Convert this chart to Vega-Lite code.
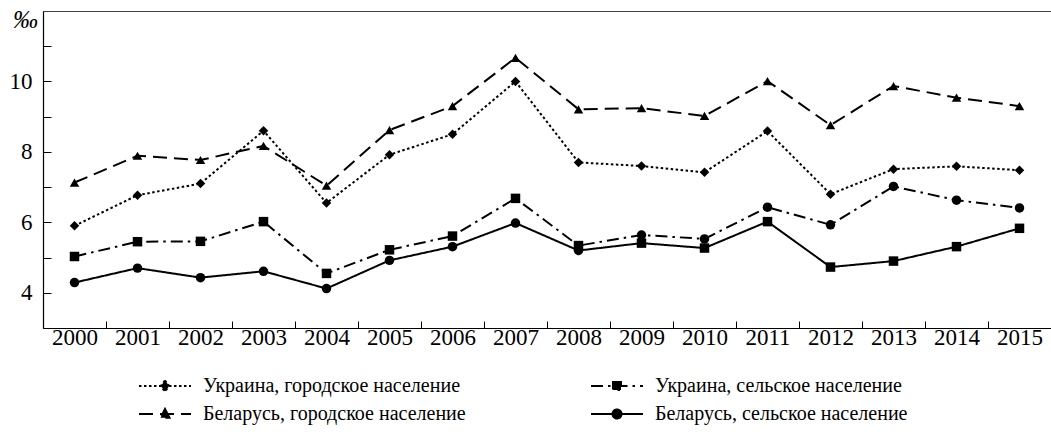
{
  "$schema": "https://vega.github.io/schema/vega-lite/v6.json",
  "width": 1008,
  "height": 317,
  "autosize": {"type": "none"},
  "padding": {"left": 43, "top": 11, "right": 0, "bottom": 104},
  "background": "white",
  "config": {
    "view": {"stroke": "#444", "strokeWidth": 1},
    "font": "Liberation Serif",
    "axis": {"labelFont": "Liberation Serif", "titleFont": "Liberation Serif", "labelColor": "black", "domainColor": "black", "tickColor": "black", "domainWidth": 1.2, "tickWidth": 1, "grid": false},
    "legend": {"labelFont": "Liberation Serif"}
  },
  "data": {
    "values": [
      {"year": 2000, "series": "Украина, городское население", "value": 5.9},
      {"year": 2001, "series": "Украина, городское население", "value": 6.77},
      {"year": 2002, "series": "Украина, городское население", "value": 7.1},
      {"year": 2003, "series": "Украина, городское население", "value": 8.6},
      {"year": 2004, "series": "Украина, городское население", "value": 6.55},
      {"year": 2005, "series": "Украина, городское население", "value": 7.92},
      {"year": 2006, "series": "Украина, городское население", "value": 8.5},
      {"year": 2007, "series": "Украина, городское население", "value": 10.0},
      {"year": 2008, "series": "Украина, городское население", "value": 7.7},
      {"year": 2009, "series": "Украина, городское население", "value": 7.6},
      {"year": 2010, "series": "Украина, городское население", "value": 7.42},
      {"year": 2011, "series": "Украина, городское население", "value": 8.59},
      {"year": 2012, "series": "Украина, городское население", "value": 6.8},
      {"year": 2013, "series": "Украина, городское население", "value": 7.51},
      {"year": 2014, "series": "Украина, городское население", "value": 7.59},
      {"year": 2015, "series": "Украина, городское население", "value": 7.48},
      {"year": 2000, "series": "Беларусь, городское население", "value": 7.13},
      {"year": 2001, "series": "Беларусь, городское население", "value": 7.89},
      {"year": 2002, "series": "Беларусь, городское население", "value": 7.77},
      {"year": 2003, "series": "Беларусь, городское население", "value": 8.17},
      {"year": 2004, "series": "Беларусь, городское население", "value": 7.04},
      {"year": 2005, "series": "Беларусь, городское население", "value": 8.62},
      {"year": 2006, "series": "Беларусь, городское население", "value": 9.3},
      {"year": 2007, "series": "Беларусь, городское население", "value": 10.67},
      {"year": 2008, "series": "Беларусь, городское население", "value": 9.21},
      {"year": 2009, "series": "Беларусь, городское население", "value": 9.24},
      {"year": 2010, "series": "Беларусь, городское население", "value": 9.02},
      {"year": 2011, "series": "Беларусь, городское население", "value": 10.01},
      {"year": 2012, "series": "Беларусь, городское население", "value": 8.76},
      {"year": 2013, "series": "Беларусь, городское население", "value": 9.87},
      {"year": 2014, "series": "Беларусь, городское население", "value": 9.54},
      {"year": 2015, "series": "Беларусь, городское население", "value": 9.3},
      {"year": 2000, "series": "Украина, сельское население", "value": 5.03},
      {"year": 2001, "series": "Украина, сельское население", "value": 5.45},
      {"year": 2002, "series": "Украина, сельское население", "value": 5.46},
      {"year": 2003, "series": "Украина, сельское население", "value": 6.02},
      {"year": 2004, "series": "Украина, сельское население", "value": 4.55},
      {"year": 2005, "series": "Украина, сельское население", "value": 5.22},
      {"year": 2006, "series": "Украина, сельское население", "value": 5.61},
      {"year": 2007, "series": "Украина, сельское население", "value": 6.68},
      {"year": 2008, "series": "Украина, сельское население", "value": 5.34},
      {"year": 2009, "series": "Украина, сельское население", "value": 5.64},
      {"year": 2010, "series": "Украина, сельское население", "value": 5.53},
      {"year": 2011, "series": "Украина, сельское население", "value": 6.43},
      {"year": 2012, "series": "Украина, сельское население", "value": 5.93},
      {"year": 2013, "series": "Украина, сельское население", "value": 7.02},
      {"year": 2014, "series": "Украина, сельское население", "value": 6.63},
      {"year": 2015, "series": "Украина, сельское население", "value": 6.41},
      {"year": 2000, "series": "Беларусь, сельское население", "value": 4.29},
      {"year": 2001, "series": "Беларусь, сельское население", "value": 4.7},
      {"year": 2002, "series": "Беларусь, сельское население", "value": 4.43},
      {"year": 2003, "series": "Беларусь, сельское население", "value": 4.61},
      {"year": 2004, "series": "Беларусь, сельское население", "value": 4.12},
      {"year": 2005, "series": "Беларусь, сельское население", "value": 4.92},
      {"year": 2006, "series": "Беларусь, сельское население", "value": 5.31},
      {"year": 2007, "series": "Беларусь, сельское население", "value": 5.98},
      {"year": 2008, "series": "Беларусь, сельское население", "value": 5.2},
      {"year": 2009, "series": "Беларусь, сельское население", "value": 5.41},
      {"year": 2010, "series": "Беларусь, сельское население", "value": 5.27},
      {"year": 2011, "series": "Беларусь, сельское население", "value": 6.02},
      {"year": 2012, "series": "Беларусь, сельское население", "value": 4.73},
      {"year": 2013, "series": "Беларусь, сельское население", "value": 4.9},
      {"year": 2014, "series": "Беларусь, сельское население", "value": 5.31},
      {"year": 2015, "series": "Беларусь, сельское население", "value": 5.83}
    ]
  },
  "encoding": {
    "x": {
      "field": "year", "type": "ordinal",
      "scale": {"paddingInner": 0, "paddingOuter": 0},
      "axis": {"title": null, "labelAngle": 0, "tickBand": "extent", "tickSize": -7, "labelFontSize": 23, "labelPadding": 5, "labelBaseline": "top"}
    },
    "y": {
      "field": "value", "type": "quantitative",
      "scale": {"domain": [3, 12], "nice": false, "zero": false},
      "axis": {
        "values": [4, 5, 6, 7, 8, 9, 10, 11],
        "labelExpr": "datum.value % 2 == 0 ? datum.value : ''",
        "tickSize": -8, "labelFontSize": 23, "labelPadding": 19,
        "title": "‰", "titleAngle": 0, "titleFontSize": 25, "titleFontStyle": "italic", "titleFontWeight": "normal",
        "titleX": -18, "titleY": 8, "titleAlign": "center", "titleBaseline": "middle"
      }
    }
  },
  "layer": [
    {
      "mark": {"type": "line", "color": "black", "strokeWidth": 2},
      "encoding": {
        "strokeDash": {
          "field": "series", "type": "nominal",
          "scale": {
            "domain": ["Украина, городское население", "Украина, сельское население", "Беларусь, городское население", "Беларусь, сельское население"],
            "range": [[2.5, 2.5], [12, 5, 2.5, 5], [14, 7], [1, 0]]
          },
          "legend": {
            "title": null, "orient": "none", "legendX": 111, "legendY": 364,
            "direction": "horizontal", "columns": 2, "columnPadding": 121, "rowPadding": 7,
            "labelFontSize": 20, "labelColor": "black", "labelLimit": 0, "labelOffset": 27,
            "symbolSize": 400, "symbolStrokeWidth": 2, "symbolStrokeColor": "black", "symbolFillColor": "black",
            "encode": {
              "symbols": {
                "update": {
                  "fill": {"value": "black"},
                  "stroke": {"value": "black"},
                  "shape": {"signal": "datum.value == 'Украина, городское население' ? 'M-2.6,0L2.6,0M0,-0.55L0.42,0L0,0.55L-0.42,0Z' : datum.value == 'Украина, сельское население' ? 'M-2.6,0L2.6,0M-0.4,-0.4L0.4,-0.4L0.4,0.4L-0.4,0.4Z' : datum.value == 'Беларусь, городское население' ? 'M-2.6,0L2.6,0M0,-0.5L0.45,0.38L-0.45,0.38Z' : 'M-2.6,0L2.6,0M-0.45,0A0.45,0.45 0 1,0 0.45,0A0.45,0.45 0 1,0 -0.45,0Z'"}
                }
              }
            }
          }
        }
      }
    },
    {
      "mark": {"type": "point", "filled": true, "color": "black", "opacity": 1, "size": 90},
      "encoding": {
        "shape": {
          "condition": [
            {"test": "datum.series == 'Украина, городское население'", "value": "diamond"},
            {"test": "datum.series == 'Беларусь, городское население'", "value": "triangle-up"},
            {"test": "(datum.series == 'Украина, сельское население') == (datum.year <= 2008)", "value": "square"}
          ],
          "value": "circle"
        }
      }
    }
  ]
}
